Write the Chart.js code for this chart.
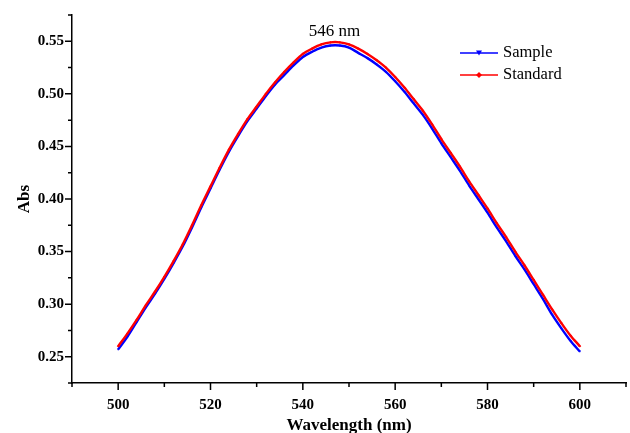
<!DOCTYPE html>
<html>
<head>
<meta charset="utf-8">
<script src="https://cdn.jsdelivr.net/npm/chart.js@4.4.1/dist/chart.umd.min.js"></script>
<style>
  html, body { margin: 0; padding: 0; background: #fff; }
  #wrap { width: 630px; height: 433px; }
</style>
</head>
<body>
<div id="wrap"><canvas id="spectrum" width="630" height="433"></canvas></div>
<script>
// Wavelengths (nm) and absorbance values
const wavelengths = [500, 502, 504, 506, 508, 510, 512, 514, 516, 518, 520, 522, 524, 526, 528, 530,
    532, 534, 536, 538, 540, 542, 544, 546, 548, 550, 552, 554, 556, 558, 560, 562, 564, 566, 568,
    570, 572, 574, 576, 578, 580, 582, 584, 586, 588, 590, 592, 594, 596, 598, 600];

const sampleAbs = [0.257, 0.269, 0.283, 0.297, 0.310, 0.324, 0.339, 0.355, 0.373, 0.392, 0.410,
    0.428, 0.445, 0.460, 0.474, 0.486, 0.498, 0.509, 0.518, 0.527, 0.535, 0.540, 0.544, 0.546,
    0.546, 0.544, 0.539, 0.534, 0.528, 0.521, 0.512, 0.502, 0.491, 0.480, 0.467, 0.453, 0.440,
    0.427, 0.413, 0.400, 0.387, 0.373, 0.360, 0.346, 0.333, 0.319, 0.305, 0.290, 0.277, 0.265, 0.255];

const standardAbs = [0.260, 0.272, 0.285, 0.299, 0.312, 0.326, 0.341, 0.357, 0.375, 0.394, 0.412,
    0.430, 0.447, 0.462, 0.476, 0.488, 0.500, 0.511, 0.521, 0.530, 0.538, 0.543, 0.547, 0.549,
    0.549, 0.547, 0.543, 0.538, 0.532, 0.525, 0.516, 0.506, 0.495, 0.484, 0.471, 0.457, 0.444,
    0.431, 0.417, 0.404, 0.391, 0.377, 0.364, 0.350, 0.337, 0.323, 0.309, 0.295, 0.282, 0.270, 0.260];

const seriesNames = ['Sample', 'Standard'];
const seriesColors = ['#0000ff', '#ff0000'];

const xTicks = [500, 520, 540, 560, 580, 600];
const xMinorTicks = [490, 510, 530, 550, 570, 590, 610];
const yTicks = [0.25, 0.30, 0.35, 0.40, 0.45, 0.50, 0.55];
const yMinorTicks = [0.225, 0.275, 0.325, 0.375, 0.425, 0.475, 0.525, 0.575];

const peakLabel = '546 nm';
const peakAt = { x: 546, y: 0.549 };

const SERIF = "'Liberation Serif', 'Times New Roman', serif";

function toPoints(values) {
    return wavelengths.map((w, i) => ({ x: w, y: values[i] }));
}

// ticks majeurs + mineurs dessinés à la main (longueurs différentes)
const tickMarks = {
    id: 'tickMarks',
    afterDraw(chart) {
        const ctx = chart.ctx;
        const x = chart.scales.x;
        const y = chart.scales.y;
        const area = chart.chartArea;
        ctx.save();
        ctx.strokeStyle = '#000';
        ctx.lineWidth = 1.5;
        ctx.beginPath();
        xTicks.forEach(v => { const px = x.getPixelForValue(v); ctx.moveTo(px, area.bottom); ctx.lineTo(px, area.bottom + 7); });
        xMinorTicks.forEach(v => { const px = x.getPixelForValue(v); ctx.moveTo(px, area.bottom); ctx.lineTo(px, area.bottom + 4); });
        yTicks.forEach(v => { const py = y.getPixelForValue(v); ctx.moveTo(area.left, py); ctx.lineTo(area.left - 7, py); });
        yMinorTicks.forEach(v => { const py = y.getPixelForValue(v); ctx.moveTo(area.left, py); ctx.lineTo(area.left - 4, py); });
        ctx.stroke();
        ctx.restore();
    }
};

// légende + annotation du pic
const legendAndLabel = {
    id: 'legendAndLabel',
    afterDraw(chart) {
        const ctx = chart.ctx;
        ctx.save();
        ctx.font = '17px ' + SERIF;
        ctx.fillStyle = '#000';
        ctx.textAlign = 'center';
        ctx.textBaseline = 'alphabetic';
        const px = chart.scales.x.getPixelForValue(peakAt.x) + 4;
        const py = chart.scales.y.getPixelForValue(peakAt.y) - 6;
        ctx.fillText(peakLabel, px, py);

        const rows = [53, 75];
        seriesNames.forEach((name, i) => {
            const yy = rows[i];
            ctx.strokeStyle = seriesColors[i];
            ctx.fillStyle = seriesColors[i];
            ctx.lineWidth = 1.5;
            ctx.beginPath();
            ctx.moveTo(460, yy);
            ctx.lineTo(498, yy);
            ctx.stroke();
            ctx.beginPath();
            if (i === 0) {
                ctx.moveTo(476, yy - 2.5); ctx.lineTo(482, yy - 2.5); ctx.lineTo(479, yy + 2.5);
            } else {
                ctx.moveTo(479, yy - 3); ctx.lineTo(482, yy); ctx.lineTo(479, yy + 3); ctx.lineTo(476, yy);
            }
            ctx.closePath();
            ctx.fill();
            ctx.fillStyle = '#000';
            ctx.font = '16.5px ' + SERIF;
            ctx.textAlign = 'left';
            ctx.textBaseline = 'middle';
            ctx.fillText(name, 503, yy);
        });
        ctx.restore();
    }
};

const tickFont = { family: SERIF, size: 15, weight: 'bold' };

new Chart(document.getElementById('spectrum'), {
    type: 'line',
    data: {
        datasets: [
            {
                label: seriesNames[0],
                data: toPoints(sampleAbs),
                borderColor: seriesColors[0],
                backgroundColor: seriesColors[0],
                borderWidth: 2.4,
                tension: 0.3,
                pointRadius: 1.4,
                pointStyle: 'triangle',
                pointRotation: 180,
                pointBorderWidth: 0,
                order: 1
            },
            {
                label: seriesNames[1],
                data: toPoints(standardAbs),
                borderColor: seriesColors[1],
                backgroundColor: seriesColors[1],
                borderWidth: 2.4,
                tension: 0.3,
                pointRadius: 1.4,
                pointStyle: 'rectRot',
                pointBorderWidth: 0,
                order: 0
            }
        ]
    },
    options: {
        responsive: false,
        animation: false,
        layout: { padding: { top: 15, right: 1, left: 0, bottom: 0 } },
        plugins: {
            legend: { display: false },
            tooltip: { enabled: false }
        },
        scales: {
            x: {
                type: 'linear',
                min: 490,
                max: 610,
                afterBuildTicks: s => { s.ticks = xTicks.map(v => ({ value: v })); },
                afterFit: s => { s.height = 50; },
                grid: { display: true, drawOnChartArea: false, drawTicks: true, tickLength: 7, color: 'rgba(0,0,0,0)' },
                border: { display: true, color: '#000', width: 1.5 },
                ticks: { font: tickFont, color: '#000', padding: 6, maxRotation: 0, callback: v => String(v) },
                title: {
                    display: true,
                    text: 'Wavelength (nm)',
                    color: '#000',
                    font: { family: SERIF, size: 17, weight: 'bold', lineHeight: 1 },
                    padding: { top: 0, bottom: -1.5 }
                }
            },
            y: {
                type: 'linear',
                min: 0.225,
                max: 0.575,
                afterBuildTicks: s => { s.ticks = yTicks.map(v => ({ value: v })); },
                afterFit: s => { s.width = 72; },
                grid: { display: true, drawOnChartArea: false, drawTicks: true, tickLength: 7, color: 'rgba(0,0,0,0)' },
                border: { display: true, color: '#000', width: 1.5 },
                ticks: { font: tickFont, color: '#000', padding: 1, callback: v => v.toFixed(2) },
                title: {
                    display: true,
                    text: 'Abs',
                    color: '#000',
                    font: { family: SERIF, size: 17, weight: 'bold', lineHeight: 1 },
                    padding: { top: 16.5, bottom: 0 }
                }
            }
        }
    },
    plugins: [tickMarks, legendAndLabel]
});
</script>
</body>
</html>
